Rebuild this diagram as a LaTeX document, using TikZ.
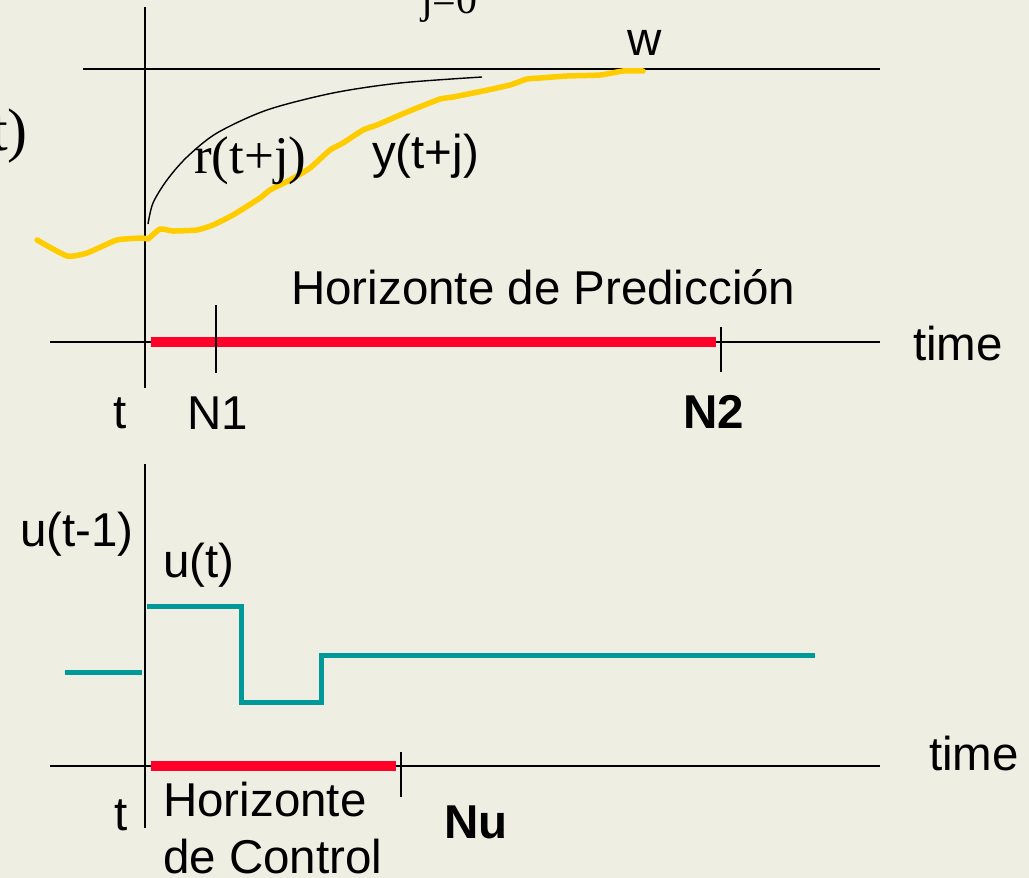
\documentclass[tikz,border=0pt]{standalone}
\usepackage{fontspec}
\setmainfont{Liberation Sans}
\newfontfamily\timesfont{Liberation Serif}
\usepackage{tikz}
\definecolor{mpcBack}{RGB}{238,238,226}
\definecolor{mpcYellow}{RGB}{255,204,0}
\definecolor{mpcRed}{RGB}{255,0,40}
\definecolor{mpcTeal}{RGB}{0,153,153}
\tikzset{
  axisline/.style={black, line width=2.2pt},
  horizonbar/.style={mpcRed, line width=10pt},
  lbl/.style={inner sep=0pt, anchor=base west, font=\fontsize{47.5}{54}\selectfont},
  boldlbl/.style={lbl, font=\fontsize{47.5}{54}\selectfont\bfseries},
  seriflbl/.style={inner sep=0pt, anchor=base west, font=\timesfont\fontsize{53}{60}\selectfont},
}

\begin{document}
\begin{tikzpicture}[x=1pt,y=-1pt]
\fill[mpcBack] (0,0) rectangle (1029,878);
\useasboundingbox (0,0) rectangle (1029,878);

% upper plot
\draw[axisline] (145,7)--(145,388);
\draw[axisline] (83,69)--(880,69);
\draw[axisline] (50,342)--(880,342);
\draw[horizonbar] (151,342)--(716,342);
\draw[axisline] (216,305)--(216,373);
\draw[axisline] (721,327)--(721,372);

\draw[black, line width=1.4pt] plot[smooth]
  coordinates {(148,224) (153,203) (167,180) (187,157) (217,133) (267,110) (333,93) (400,83) (482,77)};
\draw[mpcYellow, line width=5.5pt, line join=round, line cap=round] plot[smooth, tension=0.3]
  coordinates {(37,240) (67,256) (87,253) (117,240) (143,238) (148,239) (160,229) (173,231) (197,230)
  (213,225) (233,215) (260,198) (270,190) (290,180) (310,168) (330,150) (343,143) (363,130) (377,125)
  (400,115) (417,108) (440,99) (453,97) (483,91) (510,85) (527,79) (540,78) (567,76) (600,75) (623,71) (643,71)};

\node[seriflbl, font=\timesfont\fontsize{42}{48}\selectfont] (sumlabel) at (421,13) {j=0};
\node[seriflbl, anchor=base east, font=\timesfont\fontsize{60}{66}\selectfont] (leftlabel) at (28,150) {t)};
\node[lbl] (wlabel) at (627,55) {w};
\node[seriflbl] (rlabel) at (194,173) {r(t+j)};
\node[lbl] (ylabel) at (372,168) {y(t+j)};
\node[lbl] (predlabel) at (291,304) {Horizonte de Predicción};
\node[lbl] (timeup) at (913,360) {time};
\node[lbl] (tup) at (113,428) {t};
\node[lbl] (nonelabel) at (187,429) {N1};
\node[boldlbl] (ntwolabel) at (683,428) {N2};

% lower plot
\draw[axisline] (145,464)--(145,828);
\draw[axisline] (50,766)--(880,766);
\draw[horizonbar] (151,766)--(396,766);
\draw[axisline] (401,752)--(401,797);

\draw[mpcTeal, line width=5pt] (65,672)--(142,672);
\draw[mpcTeal, line width=5pt] (147,606)--(241,606)--(241,702)--(321,702)--(321,655)--(815,655);

\node[lbl] (uprev) at (20,546) {u(t-1)};
\node[lbl] (unow) at (163,577) {u(t)};
\node[lbl] (timelow) at (929,770) {time};
\node[lbl] (tlow) at (114,830) {t};
\node[lbl] (ctrlone) at (163,816) {Horizonte};
\node[lbl] (ctrltwo) at (163,873) {de Control};
\node[boldlbl] (nulabel) at (444,838) {Nu};
\end{tikzpicture}
\end{document}
